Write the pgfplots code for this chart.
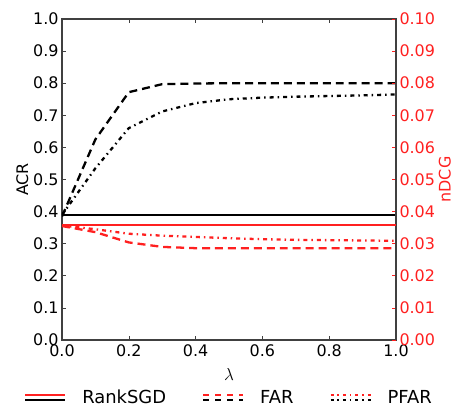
\documentclass[border=0pt]{standalone}
\usepackage{fontspec}
\setmainfont{DejaVu Sans}
\usepackage{pgfplots}
\pgfplotsset{compat=1.18}

\definecolor{frame}{HTML}{404040}
\definecolor{mred}{HTML}{FF2020}

\pgfplotsset{
  common/.style={
    scale only axis,
    width=334bp, height=321bp,
    xmin=0, xmax=1,
    tick align=inside,
    /pgf/number format/assume math mode=true,
    tick label style={font=\fontsize{16}{18}\selectfont},
    label style={font=\fontsize{16}{18}\selectfont},
    major tick length=4bp,
  },
}

\begin{document}
\begin{tikzpicture}
\begin{axis}[
    common,
    ymin=0, ymax=1,
    xtick={0,0.2,0.4,0.6,0.8,1.0},
    ytick={0,0.1,...,1.0},
    xticklabel={\pgfmathprintnumber[fixed,fixed zerofill,precision=1]{\tick}},
    yticklabel={\pgfmathprintnumber[fixed,fixed zerofill,precision=1]{\tick}},
    xticklabel style={yshift=-1bp},
    ytick pos=left,
    xtick pos=both,
    axis line style={frame, line width=1.2pt},
    tick style={frame, line width=0.6pt},
    xlabel={$\lambda$},
    ylabel={ACR},
    xlabel style={yshift=-5bp},
    ylabel style={yshift=-2bp},
    every axis plot/.append style={line width=2.3pt},
]
% RankSGD ACR
\addplot[black] coordinates {(0,0.39) (1,0.39)};
% FAR ACR
\addplot[black, dash pattern=on 8pt off 5pt] coordinates {
  (0,0.385) (0.1,0.625) (0.2,0.772) (0.3,0.797) (0.4,0.799) (0.5,0.80)
  (0.6,0.80) (0.7,0.80) (0.8,0.80) (0.9,0.80) (1.0,0.80)};
% PFAR ACR
\addplot[black, dash pattern=on 4pt off 4pt on 1.5pt off 4pt] coordinates {
  (0,0.39) (0.1,0.535) (0.2,0.66) (0.3,0.712) (0.4,0.738) (0.5,0.750)
  (0.6,0.755) (0.7,0.758) (0.8,0.760) (0.9,0.762) (1.0,0.765)};
\end{axis}

\begin{axis}[
    common,
    ymin=0, ymax=0.1,
    axis x line=none,
    axis y line*=right,
    ytick={0,0.01,...,0.1},
    yticklabel={\pgfmathprintnumber[fixed,fixed zerofill,precision=2]{\tick}},
    yticklabel style={mred},
    ytick style={mred, line width=0.6pt},
    y axis line style={frame, line width=1.2pt},
    ylabel={nDCG},
    ylabel style={mred, yshift=3bp},
    every axis plot/.append style={line width=2.3pt},
    legend style={
      at={(0.5,-0.143)}, anchor=north,
      legend columns=3, draw=none, fill=none,
      font=\fontsize{18}{20}\selectfont,
      /tikz/every odd column/.append style={column sep=14bp},
      /tikz/every even column/.append style={column sep=34bp},
      legend cell align=left,
    },
]
% RankSGD nDCG
\addplot[mred, forget plot] coordinates {(0,0.0358) (1,0.0358)};
% FAR nDCG
\addplot[mred, dash pattern=on 8pt off 5pt, forget plot] coordinates {
  (0,0.0355) (0.1,0.0336) (0.2,0.0304) (0.3,0.0290) (0.4,0.0286) (0.5,0.0286)
  (0.6,0.0286) (0.7,0.0286) (0.8,0.0286) (0.9,0.0286) (1.0,0.0286)};
% PFAR nDCG
\addplot[mred, dash pattern=on 4pt off 4pt on 1.5pt off 4pt, forget plot] coordinates {
  (0,0.0357) (0.1,0.0345) (0.2,0.0331) (0.3,0.0325) (0.4,0.0321) (0.5,0.0317)
  (0.6,0.0314) (0.7,0.0312) (0.8,0.0311) (0.9,0.0310) (1.0,0.0309)};

\addlegendimage{legend image code/.code={
  \draw[mred, line width=2pt] (0bp,2.7bp) -- (40bp,2.7bp);
  \draw[black, line width=2pt] (0bp,-2.7bp) -- (40bp,-2.7bp);}}
\addlegendentry{RankSGD}
\addlegendimage{legend image code/.code={
  \draw[mred, line width=2pt, dash pattern=on 6pt off 6pt] (0bp,2.7bp) -- (40bp,2.7bp);
  \draw[black, line width=2pt, dash pattern=on 6pt off 6pt] (0bp,-2.7bp) -- (40bp,-2.7bp);}}
\addlegendentry{FAR}
\addlegendimage{legend image code/.code={
  \draw[mred, line width=2pt, dash pattern=on 3pt off 4pt on 1.5pt off 4pt] (0bp,2.7bp) -- (40bp,2.7bp);
  \draw[black, line width=2pt, dash pattern=on 3pt off 4pt on 1.5pt off 4pt] (0bp,-2.7bp) -- (40bp,-2.7bp);}}
\addlegendentry{PFAR}
\end{axis}
\path[use as bounding box] (-62bp,-67bp) rectangle (396bp,340bp);
\end{tikzpicture}
\end{document}
